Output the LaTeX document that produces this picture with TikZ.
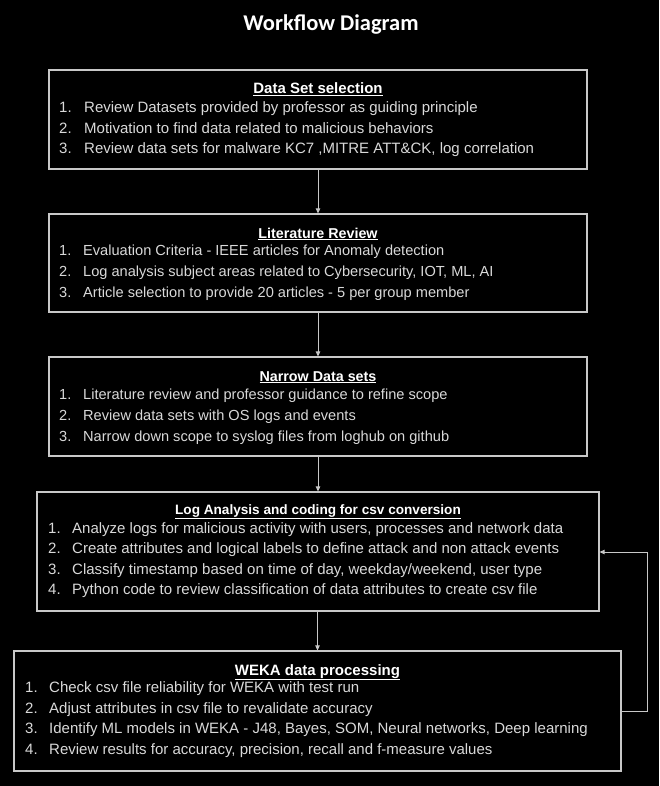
\documentclass[tikz,border=0pt]{standalone}
\usepackage{fontspec}
\setmainfont{Liberation Sans}
\newfontfamily\headfont{Carlito}
\usetikzlibrary{arrows.meta}
\definecolor{boxline}{HTML}{C8C8C8}
\definecolor{itemtext}{HTML}{D9D9D9}
\tikzset{
  stage/.style={draw=boxline, line width=1.2pt, rectangle, inner sep=0pt},
  item/.style={text=itemtext, inner sep=0pt, anchor=base west, font=\fontsize{15}{18}\selectfont},
  itemsm/.style={item, font=\fontsize{14.6}{18}\selectfont},
  head/.style={text=white, inner sep=0pt, anchor=base, font=\bfseries\fontsize{15}{18}\selectfont},
  headsm/.style={head, font=\bfseries\fontsize{14.3}{18}\selectfont},
  headxs/.style={head, font=\bfseries\fontsize{13.6}{18}\selectfont},
  flow/.style={draw=boxline, line width=1pt, -{Triangle[width=4.5pt,length=5pt]}},
}
\begin{document}
\begin{tikzpicture}[x=1pt,y=-1pt]
\fill[black] (0,0) rectangle (659,786);
\useasboundingbox (0,0) rectangle (659,786);

\node[text=white, inner sep=0pt, anchor=base, font=\headfont\bfseries\fontsize{22.5}{26}\selectfont] (title) at (331,31) {Workflow Diagram};

% boxes
\node[stage, minimum width=538pt, minimum height=99pt] (b1) at (318,119.5) {};
\node[stage, minimum width=538pt, minimum height=98pt] (b2) at (318,263) {};
\node[stage, minimum width=538pt, minimum height=99pt] (b3) at (318,406.5) {};
\node[stage, minimum width=562pt, minimum height=119pt] (b4) at (318,551.5) {};
\node[stage, minimum width=607pt, minimum height=120pt] (b5) at (317.5,711) {};

% box 1
\node[head] (h1) at (318,94) {\underline{Data Set selection}};
\node[item] (b1n1) at (59,113) {1.};
\node[item] (b1t1) at (84,113) {Review Datasets provided by professor as guiding principle};
\node[item] (b1n2) at (59,133.5) {2.};
\node[item] (b1t2) at (84,133.5) {Motivation to find data related to malicious behaviors};
\node[item] (b1n3) at (59,154) {3.};
\node[item] (b1t3) at (84,154) {Review data sets for malware KC7 ,MITRE ATT\&CK, log correlation};

% box 2
\node[headsm] (h2) at (318,238) {\underline{Literature Review}};
\node[itemsm] (b2n1) at (59,255.5) {1.};
\node[itemsm] (b2t1) at (83,255.5) {Evaluation Criteria - IEEE articles for Anomaly detection};
\node[itemsm] (b2n2) at (59,276.5) {2.};
\node[itemsm] (b2t2) at (83,276.5) {Log analysis subject areas related to Cybersecurity, IOT, ML, AI};
\node[itemsm] (b2n3) at (59,297) {3.};
\node[itemsm] (b2t3) at (83,297) {Article selection to provide 20 articles - 5 per group member};

% box 3
\node[headsm] (h3) at (318,381) {\underline{Narrow Data sets}};
\node[itemsm] (b3n1) at (59,399) {1.};
\node[itemsm] (b3t1) at (83,399) {Literature review and professor guidance to refine scope};
\node[itemsm] (b3n2) at (59,420) {2.};
\node[itemsm] (b3t2) at (83,420) {Review data sets with OS logs and events};
\node[itemsm] (b3n3) at (59,441) {3.};
\node[itemsm] (b3t3) at (83,441) {Narrow down scope to syslog files from loghub on github};

% box 4
\node[headxs] (h4) at (318,514) {\underline{Log Analysis and coding for csv conversion}};
\node[item] (b4n1) at (48,533) {1.};
\node[item] (b4t1) at (72,533) {Analyze logs for malicious activity with users, processes and network data};
\node[item] (b4n2) at (48,553.5) {2.};
\node[item] (b4t2) at (72,553.5) {Create attributes and logical labels to define attack and non attack events};
\node[item] (b4n3) at (48,574) {3.};
\node[item] (b4t3) at (72,574) {Classify timestamp based on time of day, weekday/weekend, user type};
\node[item] (b4n4) at (48,594.5) {4.};
\node[item] (b4t4) at (72,594.5) {Python code to review classification of data attributes to create csv file};

% box 5
\node[head] (h5) at (317.5,675) {\underline{WEKA data processing}};
\node[item] (b5n1) at (25,692.5) {1.};
\node[item] (b5t1) at (49,692.5) {Check csv file reliability for WEKA with test run};
\node[item] (b5n2) at (25,713) {2.};
\node[item] (b5t2) at (49,713) {Adjust attributes in csv file to revalidate accuracy};
\node[item] (b5n3) at (25,733.5) {3.};
\node[item] (b5t3) at (49,733.5) {Identify ML models in WEKA - J48, Bayes, SOM, Neural networks, Deep learning};
\node[item] (b5n4) at (25,754) {4.};
\node[item] (b5t4) at (49,754) {Review results for accuracy, precision, recall and f-measure values};

% connectors
\draw[flow] (b1.south) -- (b2.north);
\draw[flow] (b2.south) -- (b3.north);
\draw[flow] (b3.south) -- (b4.north);
\draw[flow] ([xshift=-0.5pt]b4.south) -- (b5.north);
\coordinate (fbA) at (647,711);
\coordinate (fbB) at (647,552);
\draw[flow] (b5.east) -- (fbA) -- (fbB) -- (b4.east |- fbB);
\end{tikzpicture}
\end{document}
